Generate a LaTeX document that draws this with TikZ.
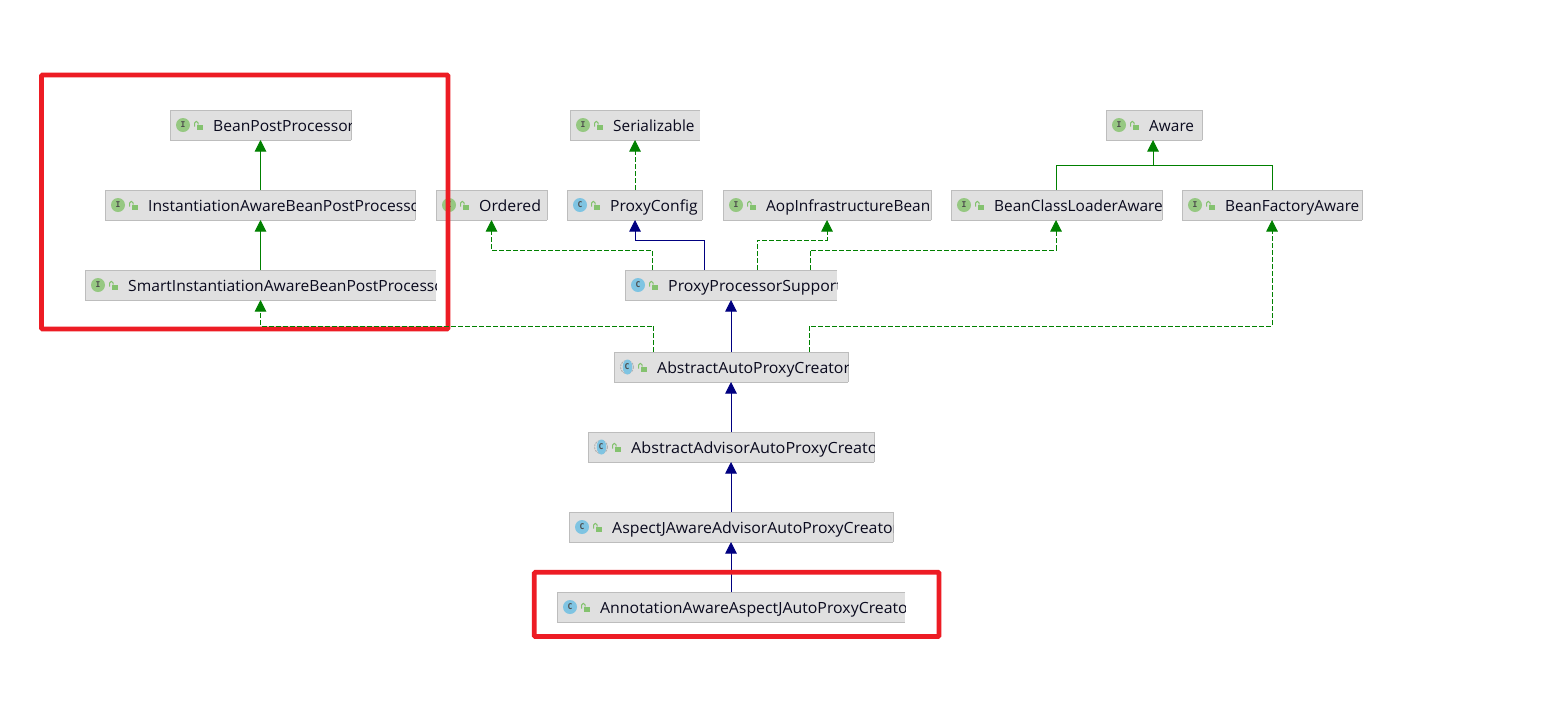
\documentclass[tikz,border=0pt]{standalone}
\usepackage{fontspec}
\setmainfont{Open Sans}
\newfontfamily\iconfont{DejaVu Sans Mono}
\newfontfamily\widestfont[FakeStretch=1.05]{Open Sans}
\newfontfamily\widerfont[FakeStretch=1.03]{Open Sans}
\newfontfamily\slightfont[FakeStretch=1.015]{Open Sans}
\usetikzlibrary{arrows.meta}
\definecolor{boxfill}{HTML}{E0E0E0}
\definecolor{boxline}{HTML}{BDBDBD}
\definecolor{implgreen}{HTML}{008000}
\definecolor{extnavy}{HTML}{000080}
\definecolor{redmark}{HTML}{ED1C24}
\definecolor{ifaceicon}{HTML}{96C882}
\definecolor{classicon}{HTML}{7FC4E2}
\definecolor{lockgreen}{HTML}{84C26F}
\definecolor{labeltext}{HTML}{0A0A1E}
\tikzset{
  x=1pt,y=-1pt,
  umlbox/.style={draw=none,fill=boxfill,inner sep=0pt,outer sep=0pt,rectangle},
  solidgreen/.style={draw=implgreen,line width=1pt,-{Triangle[length=11.5pt,width=11.5pt]}},
  dashgreen/.style={solidgreen,dash pattern=on 5pt off 2pt},
  solidnavy/.style={draw=extnavy,line width=1pt,-{Triangle[length=11.5pt,width=11.5pt]}},
  plaingreen/.style={draw=implgreen,line width=1pt},
  redframe/.style={draw=redmark,line width=4.7pt,rounded corners=1pt},
  icontext/.style={inner sep=0pt,text=black!70,font=\iconfont\bfseries\fontsize{8}{8}\selectfont},
  labelnode/.style={anchor=base west,inner sep=0pt,text=labeltext,font=\fontsize{15.4}{18}\selectfont},
}
% #1 name, #2 x0, #3 x1, #4 y0, #5 icon kind (I/C/A), #6 text, #7 1 if right border is shown
\newcommand{\umlnode}[7]{%
  \pgfmathsetmacro{\boxwidth}{#3-#2}%
  \node[umlbox,minimum width=\boxwidth pt,minimum height=30pt] (#1) at ({(#2+#3)/2},#4+15) {};
  \draw[boxline,line width=1pt] (#1.north east) -- (#1.north west) -- (#1.south west) -- (#1.south east);
  \ifnum#7=1 \draw[boxline,line width=1pt] (#1.north east) -- (#1.south east);\fi
  \begin{scope}
    \clip (#1.north west) rectangle (#1.south east);
    \node[labelnode] (#1-label) at (#2+43,#4+21) {#6};
  \end{scope}
  \ifx#5I
    \fill[ifaceicon] (#2+13,#4+15) circle (7);
    \node[icontext] (#1-icon) at (#2+13,#4+15) {I};
  \else\ifx#5C
    \fill[classicon] (#2+13,#4+15) circle (7);
    \node[icontext] (#1-icon) at (#2+13,#4+15) {C};
  \else
    \draw[black!30,line width=1pt,dash pattern=on 2pt off 1pt] (#2+13,#4+15) circle (6.5);
    \fill[classicon] (#2+13.5,#4+15) ellipse (4.8 and 7.5);
    \node[icontext] (#1-icon) at (#2+13,#4+15) {C};
  \fi\fi
  \fill[lockgreen] (#2+26.5,#4+14.5) rectangle (#2+32.5,#4+19.5);
  \draw[lockgreen,line width=1pt] (#2+24.5,#4+16.5) -- (#2+24.5,#4+13)
     .. controls (#2+24.5,#4+10.8) and (#2+28.2,#4+10.8) .. (#2+28.2,#4+13) -- (#2+28.2,#4+14.5);
}
\begin{document}
\begin{tikzpicture}
\useasboundingbox (0,0) rectangle (1549,721);
\fill[white] (0,0) rectangle (1549,721);

\umlnode{bpp}{170}{351}{110}{I}{\slightfont BeanPostProcessor}{1}
\umlnode{inst}{105}{415}{190}{I}{\slightfont InstantiationAwareBeanPostProcessor}{1}
\umlnode{smart}{85}{436}{270}{I}{\slightfont SmartInstantiationAwareBeanPostProcessor}{0}
\umlnode{ordered}{436}{547}{190}{I}{\widerfont Ordered}{1}
\umlnode{serial}{570}{700}{110}{I}{Serializable}{0}
\umlnode{config}{567}{702}{190}{C}{\slightfont ProxyConfig}{1}
\umlnode{aib}{723}{931}{190}{I}{AopInfrastructureBean}{1}
\umlnode{aware}{1106}{1202}{110}{I}{Aware}{1}
\umlnode{bcla}{951}{1162}{190}{I}{BeanClassLoaderAware}{1}
\umlnode{bfa}{1182}{1362}{190}{I}{BeanFactoryAware}{1}
\umlnode{pps}{625}{837}{270}{C}{\widerfont ProxyProcessorSupport}{0}
\umlnode{aapc}{614}{848}{352}{A}{\widerfont AbstractAutoProxyCreator}{1}
\umlnode{aadv}{588}{874}{432}{A}{\widestfont AbstractAdvisorAutoProxyCreator}{1}
\umlnode{asj}{569}{893}{512}{C}{\widerfont AspectJAwareAdvisorAutoProxyCreator}{1}
\umlnode{ann}{557}{905}{592}{C}{\widerfont AnnotationAwareAspectJAutoProxyCreator}{0}

% solid interface inheritance
\draw[solidgreen] ([xshift=155.5pt]inst.north west) -- ([xshift=90.5pt]bpp.south west);
\draw[solidgreen] ([xshift=175.5pt]smart.north west) -- ([xshift=155.5pt]inst.south west);
\draw[plaingreen] ([xshift=105pt]bcla.north west) |- (1153,165) coordinate (awarejoin);
\draw[plaingreen] ([xshift=90pt]bfa.north west) |- (awarejoin);
\draw[solidgreen] (awarejoin) -- ([xshift=47pt]aware.south west);

% dashed implementation
\draw[dashgreen] ([xshift=68pt]config.north west) -- ([xshift=65pt]serial.south west);
\draw[dashgreen] ([xshift=27pt]pps.north west) |- (491.5,250) -- ([xshift=55.5pt]ordered.south west);
\draw[dashgreen] ([xshift=132.3pt]pps.north west) |- (827,240) -- ([xshift=104pt]aib.south west);
\draw[dashgreen] ([xshift=185pt]pps.north west) |- (1056,250) -- ([xshift=105pt]bcla.south west);
\draw[dashgreen] ([xshift=195pt]aapc.north west) |- (1272,326) -- ([xshift=90pt]bfa.south west);

% solid class inheritance
\draw[solidnavy] ([xshift=79.5pt]pps.north west) |- (635,240) -- ([xshift=68pt]config.south west);
\draw[solidnavy] ([xshift=117pt]aapc.north west) -- ([xshift=106pt]pps.south west);
\draw[solidnavy] ([xshift=143pt]aadv.north west) -- ([xshift=117pt]aapc.south west);
\draw[solidnavy] ([xshift=162pt]asj.north west) -- ([xshift=143pt]aadv.south west);
\draw[solidnavy] ([xshift=174pt]ann.north west) -- ([xshift=162pt]asj.south west);

% red highlight frames
\draw[redframe] (41.5,75) rectangle (448,329);
\draw[redframe] (534.3,572.3) rectangle (939,636.5);

% this connector runs along the inner edge of the frame and stays visible
\draw[dashgreen] ([xshift=39.5pt]aapc.north west) |- (260.5,326) -- ([xshift=175.5pt]smart.south west);
\end{tikzpicture}
\end{document}
